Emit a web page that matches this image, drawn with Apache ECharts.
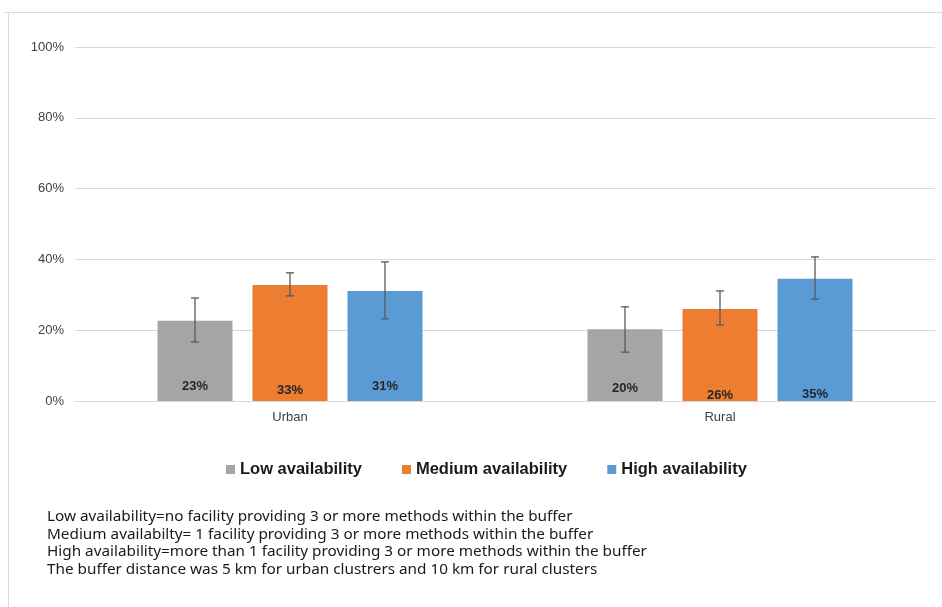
<!DOCTYPE html>
<html><head><meta charset="utf-8">
<script src="https://cdn.jsdelivr.net/npm/echarts@6/dist/echarts.min.js"></script>
<style>html,body{margin:0;padding:0;background:#fff}#c{width:942px;height:607px}</style>
</head><body><div id="c"></div>
<script>
const categories = ['Urban', 'Rural'];
const seriesNames = ['Low availability', 'Medium availability', 'High availability'];
const lowValues = [22.7, 20.3];
const mediumValues = [32.8, 26.0];
const highValues = [31.1, 34.5];
const lowErr = [[16.7, 29.1], [13.8, 26.6]];
const mediumErr = [[29.7, 36.2], [21.5, 31.1]];
const highErr = [[23.2, 39.3], [28.8, 40.7]];
const labelTexts = [['23%', '20%'], ['33%', '26%'], ['31%', '35%']];
const labelOffsets = [[8, 6], [4, -1], [8, 0]];
const yTicks = [0, 20, 40, 60, 80, 100];
const notes = [
  'Low availability=no facility providing 3 or more methods within the buffer',
  'Medium availabilty= 1 facility providing 3 or more methods within the buffer',
  'High availability=more than 1 facility providing 3 or more methods within the buffer',
  'The buffer distance was 5 km for urban clustrers and 10 km for rural clusters'
];
const colors = ['#A5A5A5', '#ED7D31', '#5B9BD5'];
const values = [lowValues, mediumValues, highValues];
const errs = [lowErr, mediumErr, highErr];

const chart = echarts.init(document.getElementById('c'));
const barWidth = 75, barGap = 20;

const series = [];
values.forEach((vals, si) => {
  series.push({
    name: seriesNames[si], type: 'bar', barWidth: barWidth, barGap: (barGap / barWidth * 100) + '%',
    itemStyle: { color: colors[si] },
    data: vals.map((v, ci) => ({
      value: v,
      label: { show: true, position: 'insideBottom', distance: labelOffsets[si][ci],
        formatter: labelTexts[si][ci], color: '#262626', fontWeight: 'bold', fontSize: 13,
        fontFamily: 'Liberation Sans, Arial' }
    })),
    z: 2
  });
});
values.forEach((vals, si) => {
  series.push({
    type: 'custom', name: seriesNames[si] + ' err',
    data: errs[si].map((e, ci) => [ci, e[0], e[1]]),
    renderItem: function (params, api) {
      const ci = api.value(0);
      const lo = api.coord([ci, api.value(1)]);
      const hi = api.coord([ci, api.value(2)]);
      const offset = (si - 1) * (barWidth + barGap);
      const x = lo[0] + offset;
      const w = 4;
      const st = { stroke: '#595959', lineWidth: 1.3 };
      return { type: 'group', children: [
        { type: 'line', shape: { x1: x, y1: hi[1], x2: x, y2: lo[1] }, style: st },
        { type: 'line', shape: { x1: x - w, y1: hi[1], x2: x + w, y2: hi[1] }, style: st },
        { type: 'line', shape: { x1: x - w, y1: lo[1], x2: x + w, y2: lo[1] }, style: st }
      ]};
    },
    z: 5, silent: true
  });
});

chart.setOption({
  animation: false,
  color: colors,
  grid: { left: 75, right: 7, top: 47, bottom: 206, containLabel: false },
  legend: {
    data: seriesNames, top: 456, left: 221, itemWidth: 9, itemHeight: 9, itemGap: 40,
    icon: 'rect',
    textStyle: { fontSize: 16.5, fontWeight: 'bold', color: '#1a1a1a', fontFamily: 'Liberation Sans, Arial' }
  },
  xAxis: {
    type: 'category', data: categories,
    axisLine: { lineStyle: { color: '#d9d9d9' } }, axisTick: { show: false },
    axisLabel: { color: '#404040', fontSize: 13, margin: 10, fontFamily: 'Liberation Sans, Arial' }
  },
  yAxis: {
    type: 'value', min: 0, max: 100, interval: 20,
    axisLabel: { formatter: v => yTicks.includes(v) ? v + '%' : '', color: '#404040', fontSize: 13, margin: 11,
      fontFamily: 'Liberation Sans, Arial' },
    splitLine: { lineStyle: { color: '#d9d9d9' } },
    axisLine: { show: false }, axisTick: { show: false }
  },
  graphic: [
    { type: 'line', shape: { x1: 5, y1: 12.5, x2: 942, y2: 12.5 }, style: { stroke: '#d9d9d9', lineWidth: 1 } },
    { type: 'line', shape: { x1: 8.5, y1: 12, x2: 8.5, y2: 607 }, style: { stroke: '#d9d9d9', lineWidth: 1 } }
  ].concat(notes.map((t, i) => ({
    type: 'text', left: 47, top: 509 + i * 17.7,
    style: { text: t, fontSize: 15.3, fill: '#1a1a1a', fontFamily: 'Noto Sans, Liberation Sans' }
  }))),
  series: series
});
</script></body></html>
